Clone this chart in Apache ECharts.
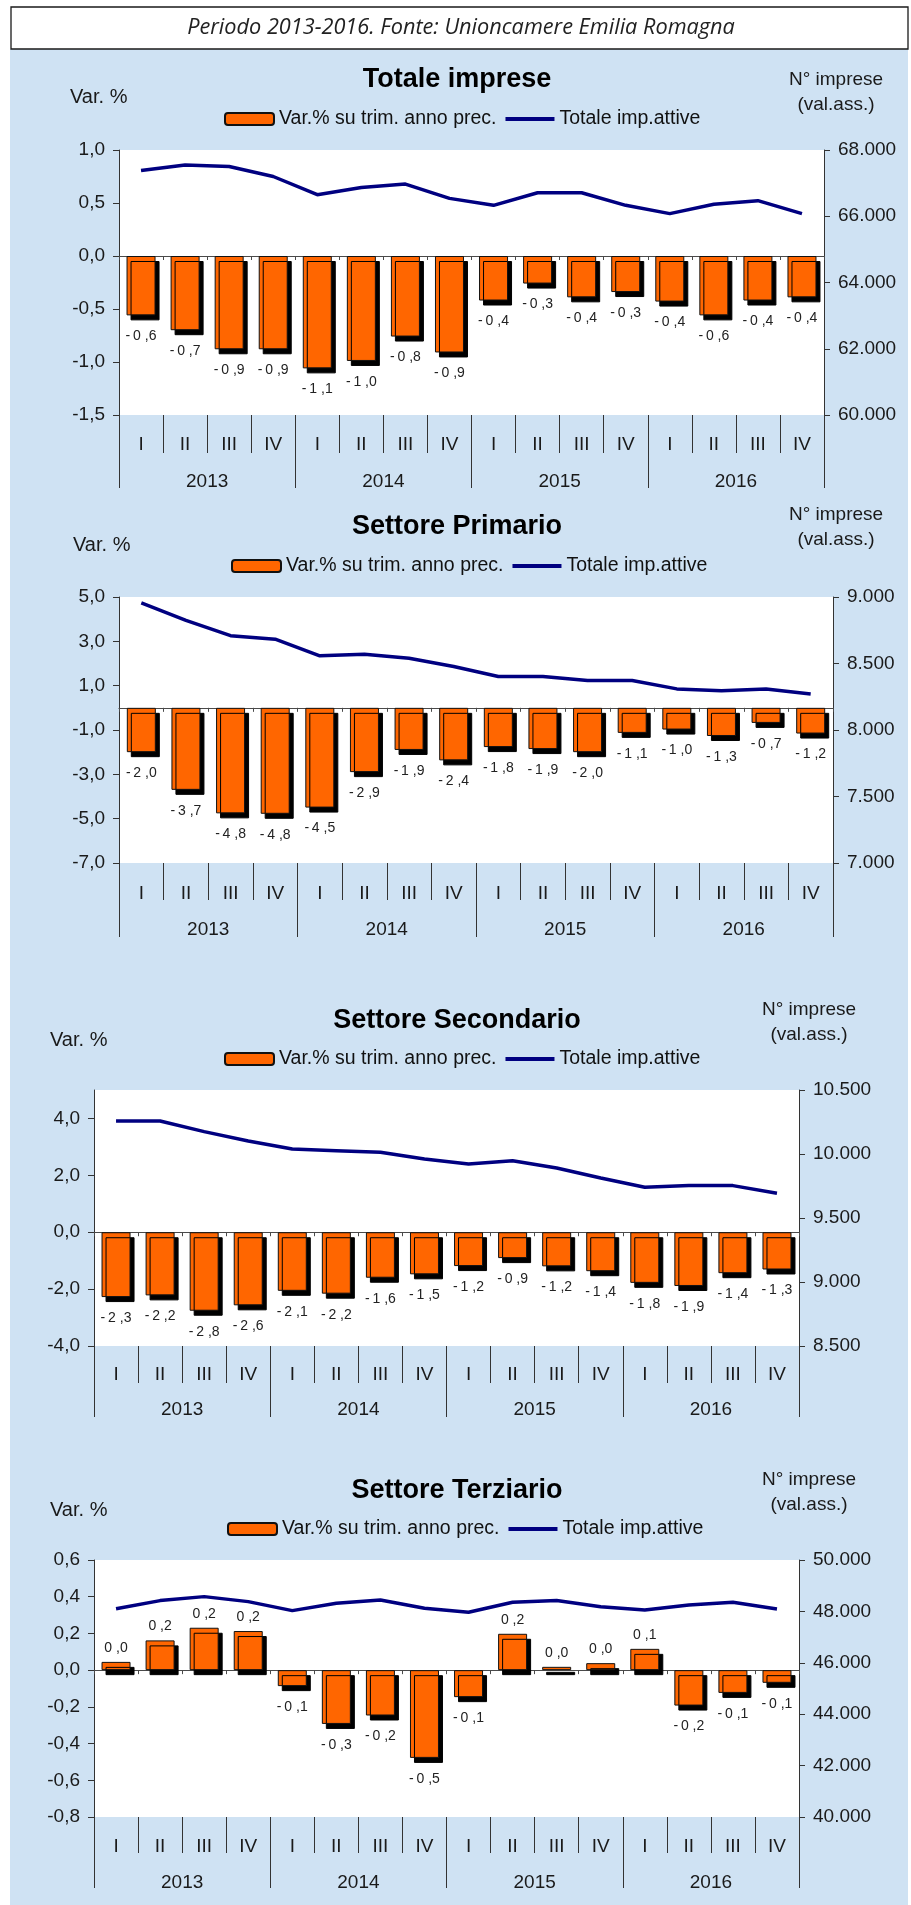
<!DOCTYPE html>
<html>
<head>
<meta charset="utf-8">
<script src="https://cdn.jsdelivr.net/npm/echarts@6/dist/echarts.min.js"></script>
<style>
html,body{margin:0;padding:0;background:#fff;}
#c{width:911px;height:1905px;}
</style>
</head>
<body>
<div id="c"></div>
<script>
// ---- Data ----
const quarters = ['I','II','III','IV','I','II','III','IV','I','II','III','IV','I','II','III','IV'];
const years = ['2013','2014','2015','2016'];
const chartTitles = ['Totale imprese','Settore Primario','Settore Secondario','Settore Terziario'];
const headerText = 'Periodo 2013-2016. Fonte: Unioncamere Emilia Romagna';
const barName = 'Var.% su trim. anno prec.';
const lineName = 'Totale imp.attive';
const leftAxisName = 'Var. %';
const rightAxisName1 = 'N° imprese';
const rightAxisName2 = '(val.ass.)';

const totaleVar = [-0.56,-0.70,-0.88,-0.88,-1.06,-0.99,-0.76,-0.91,-0.42,-0.26,-0.39,-0.34,-0.43,-0.56,-0.42,-0.39];
const totaleImp = [67380,67550,67500,67200,66650,66870,66970,66540,66330,66710,66710,66330,66080,66360,66470,66080];

const primarioVar = [-2.0,-3.7,-4.76,-4.78,-4.5,-2.9,-1.9,-2.37,-1.77,-1.86,-2.0,-1.13,-0.98,-1.27,-0.68,-1.16];
const primarioImp = [8955,8824,8709,8683,8558,8570,8540,8477,8402,8402,8372,8372,8309,8296,8309,8271];

const secondarioVar = [-2.28,-2.22,-2.76,-2.57,-2.06,-2.16,-1.60,-1.48,-1.19,-0.91,-1.2,-1.37,-1.78,-1.89,-1.44,-1.31];
const secondarioImp = [10258,10258,10175,10102,10039,10026,10013,9961,9922,9948,9891,9813,9740,9753,9753,9693];

const terziarioVar = [0.045,0.162,0.231,0.213,-0.087,-0.293,-0.247,-0.478,-0.147,0.198,0.018,0.038,0.116,-0.193,-0.124,-0.069];
const terziarioImp = [48100,48420,48575,48380,48030,48315,48445,48120,47965,48355,48420,48185,48055,48250,48355,48095];

// axis ranges [min, max, interval]
const leftRanges = [[-1.5,1.0,0.5],[-7,5,2],[-4,5,2],[-0.8,0.6,0.2]];
const rightRanges = [[60000,68000,2000],[7000,9000,500],[8500,10500,500],[40000,50000,2000]];

// ---- Layout ----
const FONT = "'Liberation Sans', Arial, Helvetica, sans-serif";
const layouts = [
  {grid:{left:119,top:150,width:705,height:265}, titleTop:66, varX:70, varY:87, nX:836, nY:70, legendLeft:224, legendMid:120, qM:20, qT:38, yM:57, yT:73},
  {grid:{left:119,top:597,width:714,height:266}, titleTop:513, varX:73, varY:535, nX:836, nY:505, legendLeft:231, legendMid:567, qM:21, qT:37, yM:57, yT:74},
  {grid:{left:94,top:1090,width:705,height:256}, titleTop:1007, varX:50, varY:1030, nX:809, nY:1000, legendLeft:224, legendMid:1060, qM:19, qT:37, yM:54, yT:71},
  {grid:{left:94,top:1560,width:705,height:257}, titleTop:1477, varX:50, varY:1500, nX:809, nY:1470, legendLeft:227, legendMid:1530, qM:20, qT:36, yM:56, yT:71}
];
const barSets = [totaleVar, primarioVar, secondarioVar, terziarioVar];
const lineSets = [totaleImp, primarioImp, secondarioImp, terziarioImp];

function fmtLeft(v){ return (Math.round(v*10)/10).toFixed(1).replace('.', ','); }
function fmtRight(v){ return String(Math.round(v)).replace(/\B(?=(\d{3})+(?!\d))/g, '.'); }
function fmtBar(v){
  const s = v.toFixed(1);
  const neg = s.charAt(0) === '-';
  const body = neg ? s.slice(1) : s;
  const parts = body.split('.');
  return (neg ? '-\u2009' : '') + parts[0] + ' ,' + parts[1];
}

const chart = echarts.init(document.getElementById('c'), null, {renderer:'canvas'});

const grids = [], xAxes = [], yAxes = [], series = [], titles = [], legends = [];
const graphics = [
  {type:'rect', z:-100, shape:{x:10,y:49,width:898,height:1856}, style:{fill:'#cfe2f3'}},
  {type:'rect', z:-90, shape:{x:11,y:7,width:897,height:42}, style:{fill:'#ffffff', stroke:'#1a1a1a', lineWidth:1.3}},
  {type:'text', z:10, style:{text:headerText, x:461, y:28, align:'center', verticalAlign:'middle', font:"italic 21.7px 'Open Sans', 'Noto Sans', sans-serif", fill:'#222'}}
];

layouts.forEach((L, k) => {
  grids.push(Object.assign({show:true, backgroundColor:'#ffffff', borderWidth:0, containLabel:false}, L.grid));
  const lr = leftRanges[k], rr = rightRanges[k];
  // zero-line category axis
  xAxes.push({type:'category', gridIndex:k, data:quarters, position:'bottom',
    axisLine:{show:true, onZero:true, lineStyle:{color:'#4a4a4a', width:1.2}},
    axisTick:{show:true, interval:0, length:4, lineStyle:{color:'#4a4a4a'}},
    axisLabel:{show:false}, splitLine:{show:false}});
  // quarter labels
  xAxes.push({type:'category', gridIndex:k, data:quarters, position:'bottom',
    axisLine:{show:false, onZero:false},
    axisTick:{show:true, interval:0, length:L.qT, lineStyle:{color:'#333'}},
    axisLabel:{show:true, interval:0, margin:L.qM, fontSize:19, color:'#1a1a1a', fontFamily:FONT},
    splitLine:{show:false}});
  // year labels
  xAxes.push({type:'category', gridIndex:k, data:years, position:'bottom',
    axisLine:{show:false, onZero:false},
    axisTick:{show:true, interval:0, length:L.yT, lineStyle:{color:'#333'}},
    axisLabel:{show:true, interval:0, margin:L.yM, fontSize:19, color:'#1a1a1a', fontFamily:FONT},
    splitLine:{show:false}});
  yAxes.push({type:'value', gridIndex:k, position:'left', min:lr[0], max:lr[1], interval:lr[2],
    axisLine:{show:true, lineStyle:{color:'#333'}},
    axisTick:{show:true, length:6, lineStyle:{color:'#333'}},
    axisLabel:{margin:14, fontSize:19, color:'#1a1a1a', fontFamily:FONT, formatter:fmtLeft, showMaxLabel: k===2 ? false : true},
    splitLine:{show:false}});
  yAxes.push({type:'value', gridIndex:k, position:'right', min:rr[0], max:rr[1], interval:rr[2],
    axisLine:{show:true, lineStyle:{color:'#333'}},
    axisTick:{show:true, length:6, lineStyle:{color:'#333'}},
    axisLabel:{margin:14, fontSize:19, color:'#1a1a1a', fontFamily:FONT, formatter:fmtRight},
    splitLine:{show:false}});
  series.push({type:'bar', name:barName, xAxisIndex:3*k, yAxisIndex:2*k, barWidth:29, z:2,
    itemStyle:{color:'#ff6600', borderColor:'#111', borderWidth:1, shadowColor:'#000', shadowBlur:0, shadowOffsetX:4, shadowOffsetY:5},
    label:{show:true, formatter:p => fmtBar(p.value), fontSize:14, color:'#222', fontFamily:FONT},
    data: barSets[k].map(v => ({value:v, label:{position: v >= 0 ? 'top' : 'bottom', distance: v >= 0 ? 7 : 14}}))
  });
  series.push({type:'line', name:lineName, xAxisIndex:3*k, yAxisIndex:2*k+1, z:4,
    symbol:'none', showSymbol:false, lineStyle:{color:'#000080', width:3.5}, itemStyle:{color:'#000080'},
    data: lineSets[k]});
  titles.push({text:chartTitles[k], left:457, textAlign:'center', top:L.titleTop, padding:0,
    textStyle:{fontSize:27, fontWeight:'bold', color:'#000', fontFamily:FONT}});
  legends.push({left:L.legendLeft, top:L.legendMid-11, padding:0, itemWidth:49, itemHeight:12, itemGap:9, selectedMode:false,
    textStyle:{fontSize:19.5, color:'#111', fontFamily:FONT},
    itemStyle:{shadowColor:'rgba(0,0,0,0)', shadowBlur:0, shadowOffsetX:0, shadowOffsetY:0},
    data:[{name:barName}, {name:lineName, icon:'path://M0,0L49,0L49,4L0,4Z', itemStyle:{color:'#000080', borderWidth:0}}]});
  graphics.push({type:'text', style:{text:leftAxisName, x:L.varX, y:L.varY, verticalAlign:'top', font:"20px " + FONT, fill:'#1a1a1a'}});
  graphics.push({type:'text', style:{text:rightAxisName1, x:L.nX, y:L.nY, align:'center', verticalAlign:'top', font:"19px " + FONT, fill:'#1a1a1a'}});
  graphics.push({type:'text', style:{text:rightAxisName2, x:L.nX, y:L.nY+25, align:'center', verticalAlign:'top', font:"19px " + FONT, fill:'#1a1a1a'}});
});

chart.setOption({
  backgroundColor:'#ffffff',
  animation:false,
  textStyle:{fontFamily:FONT},
  title:titles,
  legend:legends,
  grid:grids,
  xAxis:xAxes,
  yAxis:yAxes,
  series:series,
  graphic:graphics
});
</script>
</body>
</html>
